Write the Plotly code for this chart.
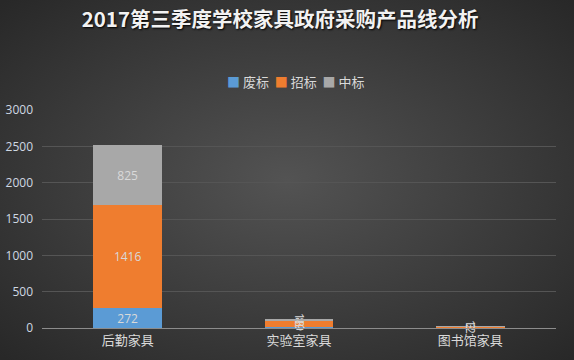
import base64
import plotly.graph_objects as go

categories = ["后勤家具", "实验室家具", "图书馆家具"]
feibiao = [272, 9, 2]      # 废标
zhaobiao = [1416, 89, 12]  # 招标
zhongbiao = [825, 18, 3]   # 中标
series_names = ["废标", "招标", "中标"]
y_ticks = [0, 500, 1000, 1500, 2000, 2500, 3000]

W, H = 574, 360
L, R, T, B = 42, 18, 110, 32
pw, ph = W - L - R, H - T - B

svg = f'''<svg xmlns="http://www.w3.org/2000/svg" width="{W}" height="{H}">
<defs><radialGradient id="g" cx="50%" cy="50%" r="70%">
<stop offset="0%" stop-color="#535353"/><stop offset="100%" stop-color="#282828"/>
</radialGradient></defs>
<rect width="{W}" height="{H}" fill="url(#g)"/></svg>'''
bg = "data:image/svg+xml;base64," + base64.b64encode(svg.encode()).decode()

colors = ["#5b9bd5", "#ef7d2f", "#a8a8a8"]
fig = go.Figure()
for name, vals, c in zip(series_names, [feibiao, zhaobiao, zhongbiao], colors):
    fig.add_trace(go.Bar(
        x=categories, y=vals, name=name, marker=dict(color=c, line=dict(width=0)),
        text=vals, textposition="inside", insidetextanchor="middle",
        textfont=dict(color="#d9d9d9", size=12, family="Open Sans, sans-serif"),
        constraintext="none", cliponaxis=False, showlegend=False,
    ))

legend_html = "&nbsp;&nbsp;".join(
    f"<span style='color:{c}'>■</span>&nbsp;{n}" for n, c in zip(series_names, colors)
)

fig.update_layout(
    width=W, height=H, barmode="stack", bargap=0.6,
    margin=dict(l=L, r=R, t=T, b=B, autoexpand=False),
    paper_bgcolor="#3a3a3a", plot_bgcolor="rgba(0,0,0,0)",
    font=dict(family="Noto Sans CJK SC, sans-serif", color="#d9d9d9"),
    title=dict(text="2017第三季度学校家具政府采购产品线分析", x=0.488, xanchor="center",
               y=0.945, yanchor="middle",
               font=dict(size=20.5, color="#f2f2f2", family="Noto Sans CJK SC, sans-serif",
                         weight="bold", shadow="1px 1px 2px #000")),
    annotations=[dict(text=legend_html, xref="paper", yref="paper",
                      x=(295 - L) / pw, y=1 + (T - 81) / ph, xanchor="center", yanchor="middle",
                      showarrow=False, font=dict(size=13, color="#d9d9d9"))],
    images=[dict(source=bg, xref="paper", yref="paper", x=-L / pw, y=1 + T / ph,
                 sizex=W / pw, sizey=H / ph, sizing="stretch", layer="below",
                 xanchor="left", yanchor="top")],
)
fig.update_xaxes(showgrid=False, showline=True, linecolor="#8c8c8c", linewidth=1,
                 ticks="", automargin=False, tickfont=dict(size=13, color="#d9d9d9"))
fig.update_yaxes(range=[0, 3000], tickvals=y_ticks, showgrid=True, gridcolor="#555555",
                 gridwidth=1, zeroline=False, showline=False, ticks="", ticklabelstandoff=8,
                 automargin=False,
                 tickfont=dict(size=12, color="#cfd8e3", family="Open Sans, sans-serif"))
fig.write_html("out.html", config={"displayModeBar": False},
               post_script="document.body.style.margin='0';")
